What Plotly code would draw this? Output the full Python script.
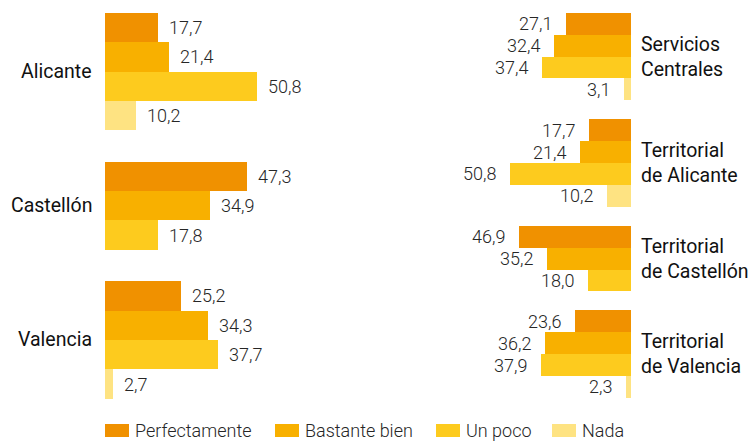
import plotly.graph_objects as go

# ---------------- data ----------------
series_names = ["Perfectamente", "Bastante bien", "Un poco", "Nada"]
series_colors = ["#F09100", "#F8B000", "#FDCB1E", "#FEE382"]

left_cats = ["Alicante", "Castellón", "Valencia"]
left_perf = [17.7, 47.3, 25.2]
left_bast = [21.4, 34.9, 34.3]
left_poco = [50.8, 17.8, 37.7]
left_nada = [10.2, None, 2.7]

right_cats = ["Servicios<br>Centrales", "Territorial<br>de Alicante",
              "Territorial<br>de Castellón", "Territorial<br>de Valencia"]
right_perf = [27.1, 17.7, 46.9, 23.6]
right_bast = [32.4, 21.4, 35.2, 36.2]
right_poco = [37.4, 50.8, 18.0, 37.9]
right_nada = [3.1, 10.2, None, 2.3]

W, H = 752, 441
FONT = "Roboto"


def fmt(v):
    return f"{v:.1f}".replace(".", ",")


def layout_slots(series, gap):
    """Assign each existing bar a slot index, grouped per category."""
    pos = [[None] * len(series[0]) for _ in series]
    centers = []
    cursor = 0.0
    for g in range(len(series[0])):
        start = cursor
        for s in range(len(series)):
            if series[s][g] is not None:
                pos[s][g] = cursor
                cursor += 1
        centers.append((start + cursor - 1) / 2)
        cursor += gap
    return pos, centers


fig = go.Figure()
annotations = []


def add_panel(cats, series, gap, xa, ya, side):
    pos, centers = layout_slots(series, gap)
    for s, vals in enumerate(series):
        xs = [v for v in vals if v is not None]
        ys = [pos[s][g] for g, v in enumerate(vals) if v is not None]
        fig.add_trace(go.Bar(
            x=xs, y=ys, orientation="h", width=1,
            marker=dict(color=series_colors[s], line=dict(width=0)),
            name=series_names[s], showlegend=False,
            xaxis=xa, yaxis=ya, hoverinfo="x+name",
        ))
        for x, y in zip(xs, ys):
            annotations.append(dict(
                x=x, y=y, xref=xa, yref=ya, text=fmt(x), showarrow=False,
                xanchor="left" if side == "left" else "right",
                xshift=9 if side == "left" else -12,
                yanchor="middle",
                font=dict(family=FONT, size=18, color="#262626", weight=300),
            ))
    for c, yc in zip(cats, centers):
        if side == "left":
            annotations.append(dict(
                x=94 / W, xref="paper", y=yc, yref=ya, text=c, showarrow=False,
                xanchor="right", yanchor="middle", align="right",
                font=dict(family=FONT, size=19.5, color="#111111", weight=400)))
        else:
            annotations.append(dict(
                x=639 / W, xref="paper", y=yc, yref=ya, text=c, showarrow=False,
                xanchor="left", yanchor="middle", align="left",
                font=dict(family=FONT, size=19.5, color="#111111", weight=400)))


add_panel(left_cats, [left_perf, left_bast, left_poco, left_nada], 1.065, "x", "y", "left")
add_panel(right_cats, [right_perf, right_bast, right_poco, right_nada], 0.863, "x2", "y2", "right")

# ---------------- legend (manual) ----------------
shapes = []
legend_x = [105, 275, 436, 552]
for name, color, lx in zip(series_names, series_colors, legend_x):
    shapes.append(dict(type="rect", xref="paper", yref="paper",
                       x0=lx / W, x1=(lx + 24) / W,
                       y0=1 - 437 / H, y1=1 - 424 / H,
                       fillcolor=color, line=dict(width=0)))
    annotations.append(dict(
        x=(lx + 28) / W, y=1 - 430.5 / H, xref="paper", yref="paper",
        text=name, showarrow=False, xanchor="left", yanchor="middle",
        font=dict(family=FONT, size=18, color="#262626", weight=300)))

# left panel: bar unit 29.4 px, first slot center at 27.4 px
lu, l0 = 29.4, 27.4
# right panel: bar unit 21.9 px, first slot center at 23.65 px
ru, r0 = 21.9, 23.65

fig.update_layout(
    width=W, height=H,
    margin=dict(l=0, r=0, t=0, b=0),
    paper_bgcolor="white", plot_bgcolor="rgba(0,0,0,0)",
    barmode="overlay", bargap=0,
    font=dict(family=FONT),
    xaxis=dict(domain=[105 / W, 345 / W], range=[0, 80], visible=False,
               anchor="y", fixedrange=True),
    yaxis=dict(domain=[0, 1], range=[(H - l0) / lu, -l0 / lu], visible=False,
               anchor="x", fixedrange=True),
    xaxis2=dict(domain=[440 / W, 631 / W], range=[80, 0], visible=False,
                anchor="y2", fixedrange=True),
    yaxis2=dict(domain=[0, 1], range=[(H - r0) / ru, -r0 / ru], visible=False,
                anchor="x2", fixedrange=True),
    annotations=annotations,
    shapes=shapes,
    showlegend=False,
)

fig.write_html(
    "out.html",
    config={"displayModeBar": False},
    post_script="document.body.style.margin='0';document.body.style.overflow='hidden';",
)
